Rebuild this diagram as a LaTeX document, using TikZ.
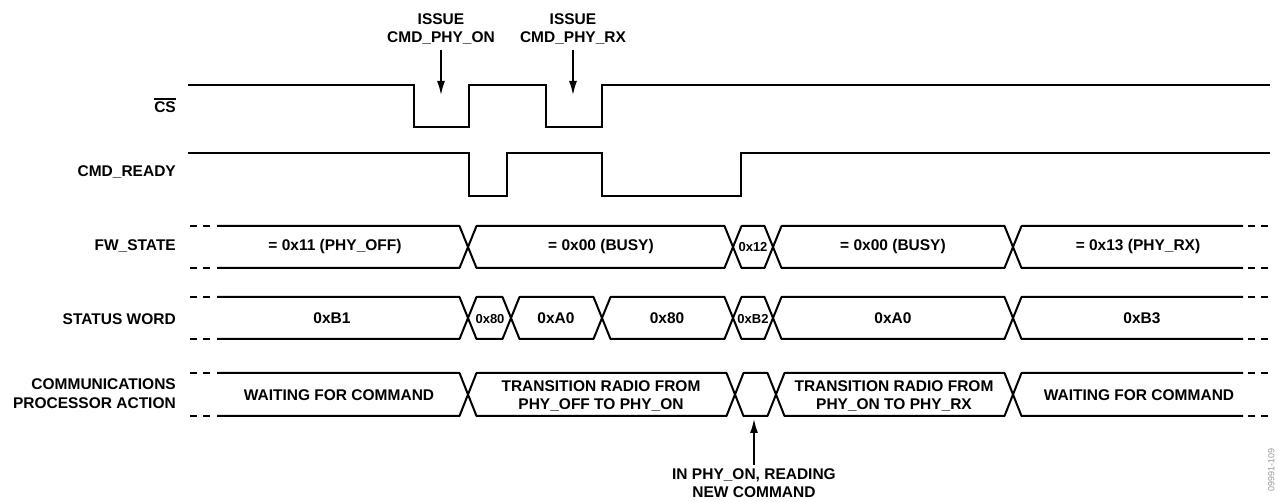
\documentclass[tikz,border=0pt]{standalone}
\usepackage{fontspec}
\setmainfont{Liberation Sans}
\usetikzlibrary{arrows.meta}
\begin{document}
\begin{tikzpicture}[x=1pt,y=-1pt,
  wave/.style={line width=2pt,line join=miter,line cap=butt},
  bus/.style={line width=2pt,line join=bevel},
  dsh/.style={line width=2pt,dash pattern=on 7pt off 6pt},
  lbl/.style={font=\fontsize{15.5}{18}\selectfont\bfseries,inner sep=0pt,anchor=base east},
  txt/.style={font=\fontsize{15.5}{18}\selectfont\bfseries,inner sep=0pt,anchor=base},
  sm/.style={font=\fontsize{13}{15}\selectfont\bfseries,inner sep=0pt,anchor=base},
  arr/.style={line width=1.6pt,-{Latex[length=14pt,width=8pt]}}]
\useasboundingbox (0,0) rectangle (1278,502);

% --- signal labels
\node[lbl] (lcs) at (176,113) {CS};
\draw[line width=1.2pt] ([yshift=3pt]lcs.north west) -- ([yshift=3pt]lcs.north east);
\node[lbl] (lrdy) at (176,177) {CMD\_READY};
\node[lbl] (lfw) at (176,251) {FW\_STATE};
\node[lbl] (lsw) at (176,325) {STATUS WORD};
\node[lbl] (lcp1) at (176,390) {COMMUNICATIONS};
\node[lbl] (lcp2) at (176,409) {PROCESSOR ACTION};

% --- CS waveform
\draw[wave] (188,85) -- (414,85) -- (414,127) -- (469,127) -- (469,85) -- (546,85)
  -- (546,127) -- (602,127) -- (602,85) -- (1270,85);
% --- CMD_READY waveform
\draw[wave] (188,153) -- (469,153) -- (469,196) -- (507,196) -- (507,153) -- (602,153)
  -- (602,196) -- (741,196) -- (741,153) -- (1270,153);

% --- bus helper
\newcommand\busseg[4]{% a, b, top, bottom
  \draw[bus] (#1,{(#3+#4)/2}) -- (#1+8.5,#3) -- (#2-8.5,#3) -- (#2,{(#3+#4)/2})
    -- (#2-8.5,#4) -- (#1+8.5,#4) -- cycle;}
\newcommand\busstart[3]{% b, top, bottom
  \draw[bus] (217,#2) -- (#1-8.5,#2) -- (#1,{(#2+#3)/2}) -- (#1-8.5,#3) -- (217,#3);
  \draw[dsh] (190,#2) -- (211,#2);
  \draw[dsh] (190,#3) -- (211,#3);}
\newcommand\busend[3]{% a, top, bottom
  \draw[bus] (1243,#2) -- (#1+8.5,#2) -- (#1,{(#2+#3)/2}) -- (#1+8.5,#3) -- (1243,#3);
  \draw[dsh] (1248,#2) -- (1269,#2);
  \draw[dsh] (1248,#3) -- (1269,#3);}

% --- FW_STATE
\busstart{468}{226}{268}
\busseg{468}{733}{226}{268}
\busseg{733}{773}{226}{268}
\busseg{773}{1013}{226}{268}
\busend{1013}{226}{268}
\node[txt] (fw1) at (335,251) {= 0x11 (PHY\_OFF)};
\node[txt] (fw2) at (601,251) {= 0x00 (BUSY)};
\node[sm]  (fw3) at (753,251.5) {0x12};
\node[txt] (fw4) at (893,251) {= 0x00 (BUSY)};
\node[txt] (fw5) at (1138,251) {= 0x13 (PHY\_RX)};

% --- STATUS WORD
\busstart{468}{297}{339}
\busseg{468}{511}{297}{339}
\busseg{511}{602}{297}{339}
\busseg{602}{733}{297}{339}
\busseg{733}{773}{297}{339}
\busseg{773}{1013}{297}{339}
\busend{1013}{297}{339}
\node[txt] (sw1) at (332,324) {0xB1};
\node[sm]  (sw2) at (490,323.5) {0x80};
\node[txt] (sw3) at (556,324) {0xA0};
\node[txt] (sw4) at (667,324) {0x80};
\node[sm]  (sw5) at (753,323.5) {0xB2};
\node[txt] (sw6) at (893,324) {0xA0};
\node[txt] (sw7) at (1142,324) {0xB3};

% --- COMMUNICATIONS PROCESSOR ACTION
\busstart{468}{373}{416}
\busseg{468}{735}{373}{416}
\busseg{735}{776}{373}{416}
\busseg{776}{1013}{373}{416}
\busend{1013}{373}{416}
\node[txt] (cp1) at (339,401) {WAITING FOR COMMAND};
\node[txt] (cp2a) at (601,392) {TRANSITION RADIO FROM};
\node[txt] (cp2b) at (601,410) {PHY\_OFF TO PHY\_ON};
\node[txt] (cp3a) at (894,392) {TRANSITION RADIO FROM};
\node[txt] (cp3b) at (894,410) {PHY\_ON TO PHY\_RX};
\node[txt] (cp4) at (1139,401) {WAITING FOR COMMAND};

% --- annotations
\node[txt] (is1a) at (441,25) {ISSUE};
\node[txt] (is1b) at (441,43) {CMD\_PHY\_ON};
\node[txt] (is2a) at (573,25) {ISSUE};
\node[txt] (is2b) at (573,43) {CMD\_PHY\_RX};
\coordinate (t1) at (441,95);
\coordinate (t2) at (573,95);
\draw[arr,shorten <=5pt] (is1b.south) -- (t1);
\draw[arr,shorten <=5pt] (is2b.south) -- (t2);

\node[txt] (in1) at (754,480) {IN PHY\_ON, READING};
\node[txt] (in2) at (754,498) {NEW COMMAND};
\coordinate (t3) at (754,419);
\draw[arr,shorten <=4pt] (in1.north) -- (t3);

\node[font=\fontsize{9}{10}\selectfont,text=black!40,rotate=90,anchor=north east,inner sep=0pt] (fig) at (1268,448) {09991-109};
\end{tikzpicture}
\end{document}
